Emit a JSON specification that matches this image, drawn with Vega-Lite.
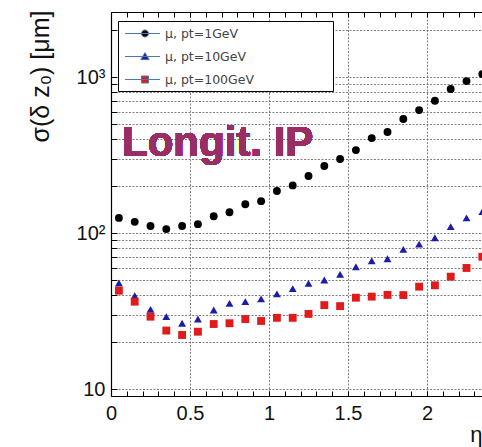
{
  "$schema": "https://vega.github.io/schema/vega-lite/v6.json",
  "width": 371,
  "height": 384,
  "autosize": {"type": "none"},
  "padding": {"left": 111, "top": 12, "right": 0, "bottom": 51},
  "background": "white",
  "config": {"view": {"stroke": null}, "font": "Liberation Sans"},
  "data": {"values": [
    {"s":"μ, pt=1GeV","eta":0.05,"v":125},{"s":"μ, pt=1GeV","eta":0.15,"v":118},{"s":"μ, pt=1GeV","eta":0.25,"v":111},{"s":"μ, pt=1GeV","eta":0.35,"v":106},{"s":"μ, pt=1GeV","eta":0.45,"v":111},{"s":"μ, pt=1GeV","eta":0.55,"v":114},{"s":"μ, pt=1GeV","eta":0.65,"v":128},{"s":"μ, pt=1GeV","eta":0.75,"v":136},{"s":"μ, pt=1GeV","eta":0.85,"v":153},{"s":"μ, pt=1GeV","eta":0.95,"v":160},{"s":"μ, pt=1GeV","eta":1.05,"v":186},{"s":"μ, pt=1GeV","eta":1.15,"v":202},{"s":"μ, pt=1GeV","eta":1.25,"v":232},{"s":"μ, pt=1GeV","eta":1.35,"v":269},{"s":"μ, pt=1GeV","eta":1.45,"v":298},{"s":"μ, pt=1GeV","eta":1.55,"v":340},{"s":"μ, pt=1GeV","eta":1.65,"v":406},{"s":"μ, pt=1GeV","eta":1.75,"v":444},{"s":"μ, pt=1GeV","eta":1.85,"v":538},{"s":"μ, pt=1GeV","eta":1.95,"v":614},{"s":"μ, pt=1GeV","eta":2.05,"v":705},{"s":"μ, pt=1GeV","eta":2.15,"v":838},{"s":"μ, pt=1GeV","eta":2.25,"v":942},{"s":"μ, pt=1GeV","eta":2.35,"v":1045},
    {"s":"μ, pt=10GeV","eta":0.05,"v":47.8},{"s":"μ, pt=10GeV","eta":0.15,"v":39.6},{"s":"μ, pt=10GeV","eta":0.25,"v":32.4},{"s":"μ, pt=10GeV","eta":0.35,"v":29.1},{"s":"μ, pt=10GeV","eta":0.45,"v":26.4},{"s":"μ, pt=10GeV","eta":0.55,"v":28.1},{"s":"μ, pt=10GeV","eta":0.65,"v":32.1},{"s":"μ, pt=10GeV","eta":0.75,"v":35.4},{"s":"μ, pt=10GeV","eta":0.85,"v":36.3},{"s":"μ, pt=10GeV","eta":0.95,"v":37.8},{"s":"μ, pt=10GeV","eta":1.05,"v":40.7},{"s":"μ, pt=10GeV","eta":1.15,"v":44},{"s":"μ, pt=10GeV","eta":1.25,"v":47.6},{"s":"μ, pt=10GeV","eta":1.35,"v":50},{"s":"μ, pt=10GeV","eta":1.45,"v":54.3},{"s":"μ, pt=10GeV","eta":1.55,"v":60.8},{"s":"μ, pt=10GeV","eta":1.65,"v":66.4},{"s":"μ, pt=10GeV","eta":1.75,"v":68.4},{"s":"μ, pt=10GeV","eta":1.85,"v":78.6},{"s":"μ, pt=10GeV","eta":1.95,"v":85},{"s":"μ, pt=10GeV","eta":2.05,"v":93.3},{"s":"μ, pt=10GeV","eta":2.15,"v":110},{"s":"μ, pt=10GeV","eta":2.25,"v":125},{"s":"μ, pt=10GeV","eta":2.35,"v":137},
    {"s":"μ, pt=100GeV","eta":0.05,"v":42.7},{"s":"μ, pt=100GeV","eta":0.15,"v":36.3},{"s":"μ, pt=100GeV","eta":0.25,"v":29.1},{"s":"μ, pt=100GeV","eta":0.35,"v":23.7},{"s":"μ, pt=100GeV","eta":0.45,"v":22.2},{"s":"μ, pt=100GeV","eta":0.55,"v":23.3},{"s":"μ, pt=100GeV","eta":0.65,"v":26.1},{"s":"μ, pt=100GeV","eta":0.75,"v":26.4},{"s":"μ, pt=100GeV","eta":0.85,"v":28.1},{"s":"μ, pt=100GeV","eta":0.95,"v":27.3},{"s":"μ, pt=100GeV","eta":1.05,"v":28.6},{"s":"μ, pt=100GeV","eta":1.15,"v":28.6},{"s":"μ, pt=100GeV","eta":1.25,"v":30.3},{"s":"μ, pt=100GeV","eta":1.35,"v":34.5},{"s":"μ, pt=100GeV","eta":1.45,"v":34},{"s":"μ, pt=100GeV","eta":1.55,"v":38.5},{"s":"μ, pt=100GeV","eta":1.65,"v":39.1},{"s":"μ, pt=100GeV","eta":1.75,"v":40.1},{"s":"μ, pt=100GeV","eta":1.85,"v":40},{"s":"μ, pt=100GeV","eta":1.95,"v":45.3},{"s":"μ, pt=100GeV","eta":2.05,"v":46.2},{"s":"μ, pt=100GeV","eta":2.15,"v":52.5},{"s":"μ, pt=100GeV","eta":2.25,"v":59.7},{"s":"μ, pt=100GeV","eta":2.35,"v":70.5}
  ]},
  "resolve": {"axis": {"x": "independent", "y": "independent"}},
  "layer": [
    {
      "mark": {"type": "point", "filled": false, "opacity": 0, "clip": false},
      "encoding": {
        "x": {"field": "eta", "type": "quantitative",
          "scale": {"domain": [0, 2.348], "nice": false, "zero": false},
          "axis": {"orient": "bottom", "values": [0,0.1,0.2,0.3,0.4,0.5,0.6,0.7,0.8,0.9,1,1.1,1.2,1.3,1.4,1.5,1.6,1.7,1.8,1.9,2,2.1,2.2,2.3],
            "labels": false, "grid": false, "domain": false, "ticks": true, "tickSize": -5, "tickColor": "#000", "title": null}},
        "y": {"field": "v", "type": "quantitative",
          "scale": {"type": "log", "domain": [9.02, 2612], "nice": false},
          "axis": {"orient": "left", "values": [10,20,30,40,50,60,70,80,90,100,200,300,400,500,600,700,800,900,1000,2000],
            "labels": false, "grid": false, "domain": false, "ticks": true, "tickSize": -6, "tickColor": "#000", "title": null}},
        "shape": {"field": "s", "type": "nominal",
          "scale": {"domain": ["μ, pt=1GeV", "μ, pt=10GeV", "μ, pt=100GeV"],
            "range": ["M-0.79,0H4.21M1.57,0A0.5,0.5,0,1,0,2.57,0A0.5,0.5,0,1,0,1.57,0Z", "M-0.79,0H4.21M2.07,-0.55L2.67,0.45L1.47,0.45Z", "M-0.79,0H4.21M1.57,-0.5H2.57V0.5H1.57Z"]},
          "legend": {"orient": "none", "legendX": 7, "legendY": 9, "title": null, "fillColor": "white", "strokeColor": "#000", "padding": 5,
            "symbolSize": 196, "symbolStrokeWidth": 1, "symbolOpacity": 1, "labelFont": "DejaVu Sans", "labelFontSize": 12.5, "labelColor": "#444",
            "labelOffset": 27, "rowPadding": 9, "labelLimit": 400,
            "labelExpr": "datum.label + '\u2800\u2800\u2800\u2800\u2800\u2800\u2800\u2800'",
            "encode": {"symbols": {"update": {
              "fill": {"signal": "datum.value == 'μ, pt=1GeV' ? '#000000' : datum.value == 'μ, pt=10GeV' ? '#1c1ca8' : '#e01b1c'"},
              "stroke": {"signal": "datum.value == 'μ, pt=1GeV' ? '#000000' : datum.value == 'μ, pt=10GeV' ? '#1c1ca8' : '#e01b1c'"},
              "opacity": {"value": 1}, "fillOpacity": {"value": 1}, "strokeOpacity": {"value": 1}}}}}}
      }
    },
    {
      "transform": [{"filter": "datum.s == 'μ, pt=1GeV'"}],
      "mark": {"type": "point", "filled": true, "opacity": 1, "size": 62, "shape": "circle", "clip": false},
      "encoding": {
        "x": {"field": "eta", "type": "quantitative",
          "axis": {"orient": "bottom", "values": [0, 0.5, 1, 1.5, 2], "format": "~g", "ticks": false,
            "grid": true, "gridColor": "#555", "gridDash": [2, 1.5], "gridOpacity": 0.75,
            "domain": true, "domainColor": "#000", "domainWidth": 1.2,
            "labelFontSize": 20, "labelColor": "#111", "labelPadding": 7, "labelFlush": false, "labelOverlap": false, "labelBound": false,
            "title": "η", "titleFontSize": 22, "titleFontWeight": "normal", "titleColor": "#111",
            "titleAnchor": "end", "titleAlign": "right", "titleX": 371, "titleY": 45, "titleBaseline": "alphabetic"}},
        "y": {"field": "v", "type": "quantitative",
          "axis": {"orient": "left", "values": [10,20,30,40,50,60,70,80,90,100,200,300,400,500,600,700,800,900,1000,2000],
            "labelExpr": "datum.value == 10 ? '10' : datum.value == 100 ? '10²' : datum.value == 1000 ? '10³' : ''",
            "ticks": false, "grid": true, "gridColor": "#555", "gridDash": [2, 1.5], "gridOpacity": 0.75,
            "domain": true, "domainColor": "#000", "domainWidth": 1.2,
            "labelFontSize": 20, "labelColor": "#111", "labelPadding": 6, "labelOverlap": false, "labelBound": false, "labelFlush": false, "labelBaseline": "middle",
            "title": "σ(δ z₀) [μm]", "titleFontSize": 25, "titleFontWeight": "normal", "titleColor": "#111",
            "titleAngle": -90, "titleAnchor": "end", "titleAlign": "right", "titleBaseline": "middle", "titleX": -71, "titleY": -2}},
        "color": {"field": "s", "type": "nominal",
          "scale": {"domain": ["μ, pt=1GeV", "μ, pt=10GeV", "μ, pt=100GeV"], "range": ["#000000", "#1c1ca8", "#e01b1c"]},
          "legend": null}
      }
    },
    {
      "transform": [{"filter": "datum.s == 'μ, pt=10GeV'"}],
      "mark": {"type": "point", "filled": true, "opacity": 1, "size": 62, "shape": "triangle-up", "clip": false},
      "encoding": {
        "x": {"field": "eta", "type": "quantitative", "axis": null},
        "y": {"field": "v", "type": "quantitative", "axis": null},
        "color": {"field": "s", "type": "nominal", "legend": null}
      }
    },
    {
      "transform": [{"filter": "datum.s == 'μ, pt=100GeV'"}],
      "mark": {"type": "point", "filled": true, "opacity": 1, "size": 62, "shape": "square", "clip": false},
      "encoding": {
        "x": {"field": "eta", "type": "quantitative", "axis": null},
        "y": {"field": "v", "type": "quantitative", "axis": null},
        "color": {"field": "s", "type": "nominal", "legend": null}
      }
    },
    {
      "mark": {"type": "text", "text": "Longit. IP", "font": "Liberation Sans", "fontSize": 42, "fontWeight": "bold", "fill": "#9b2d66", "align": "left", "baseline": "alphabetic", "clip": false},
      "encoding": {
        "x": {"datum": 0.07, "type": "quantitative",
          "axis": {"orient": "top", "values": [0,0.1,0.2,0.3,0.4,0.5,0.6,0.7,0.8,0.9,1,1.1,1.2,1.3,1.4,1.5,1.6,1.7,1.8,1.9,2,2.1,2.2,2.3],
            "labels": false, "grid": false, "domain": true, "domainColor": "#000", "domainWidth": 1.2, "ticks": true, "tickSize": -5, "tickColor": "#000", "title": null}},
        "y": {"datum": 311, "type": "quantitative", "axis": null}
      }
    }
  ]
}
